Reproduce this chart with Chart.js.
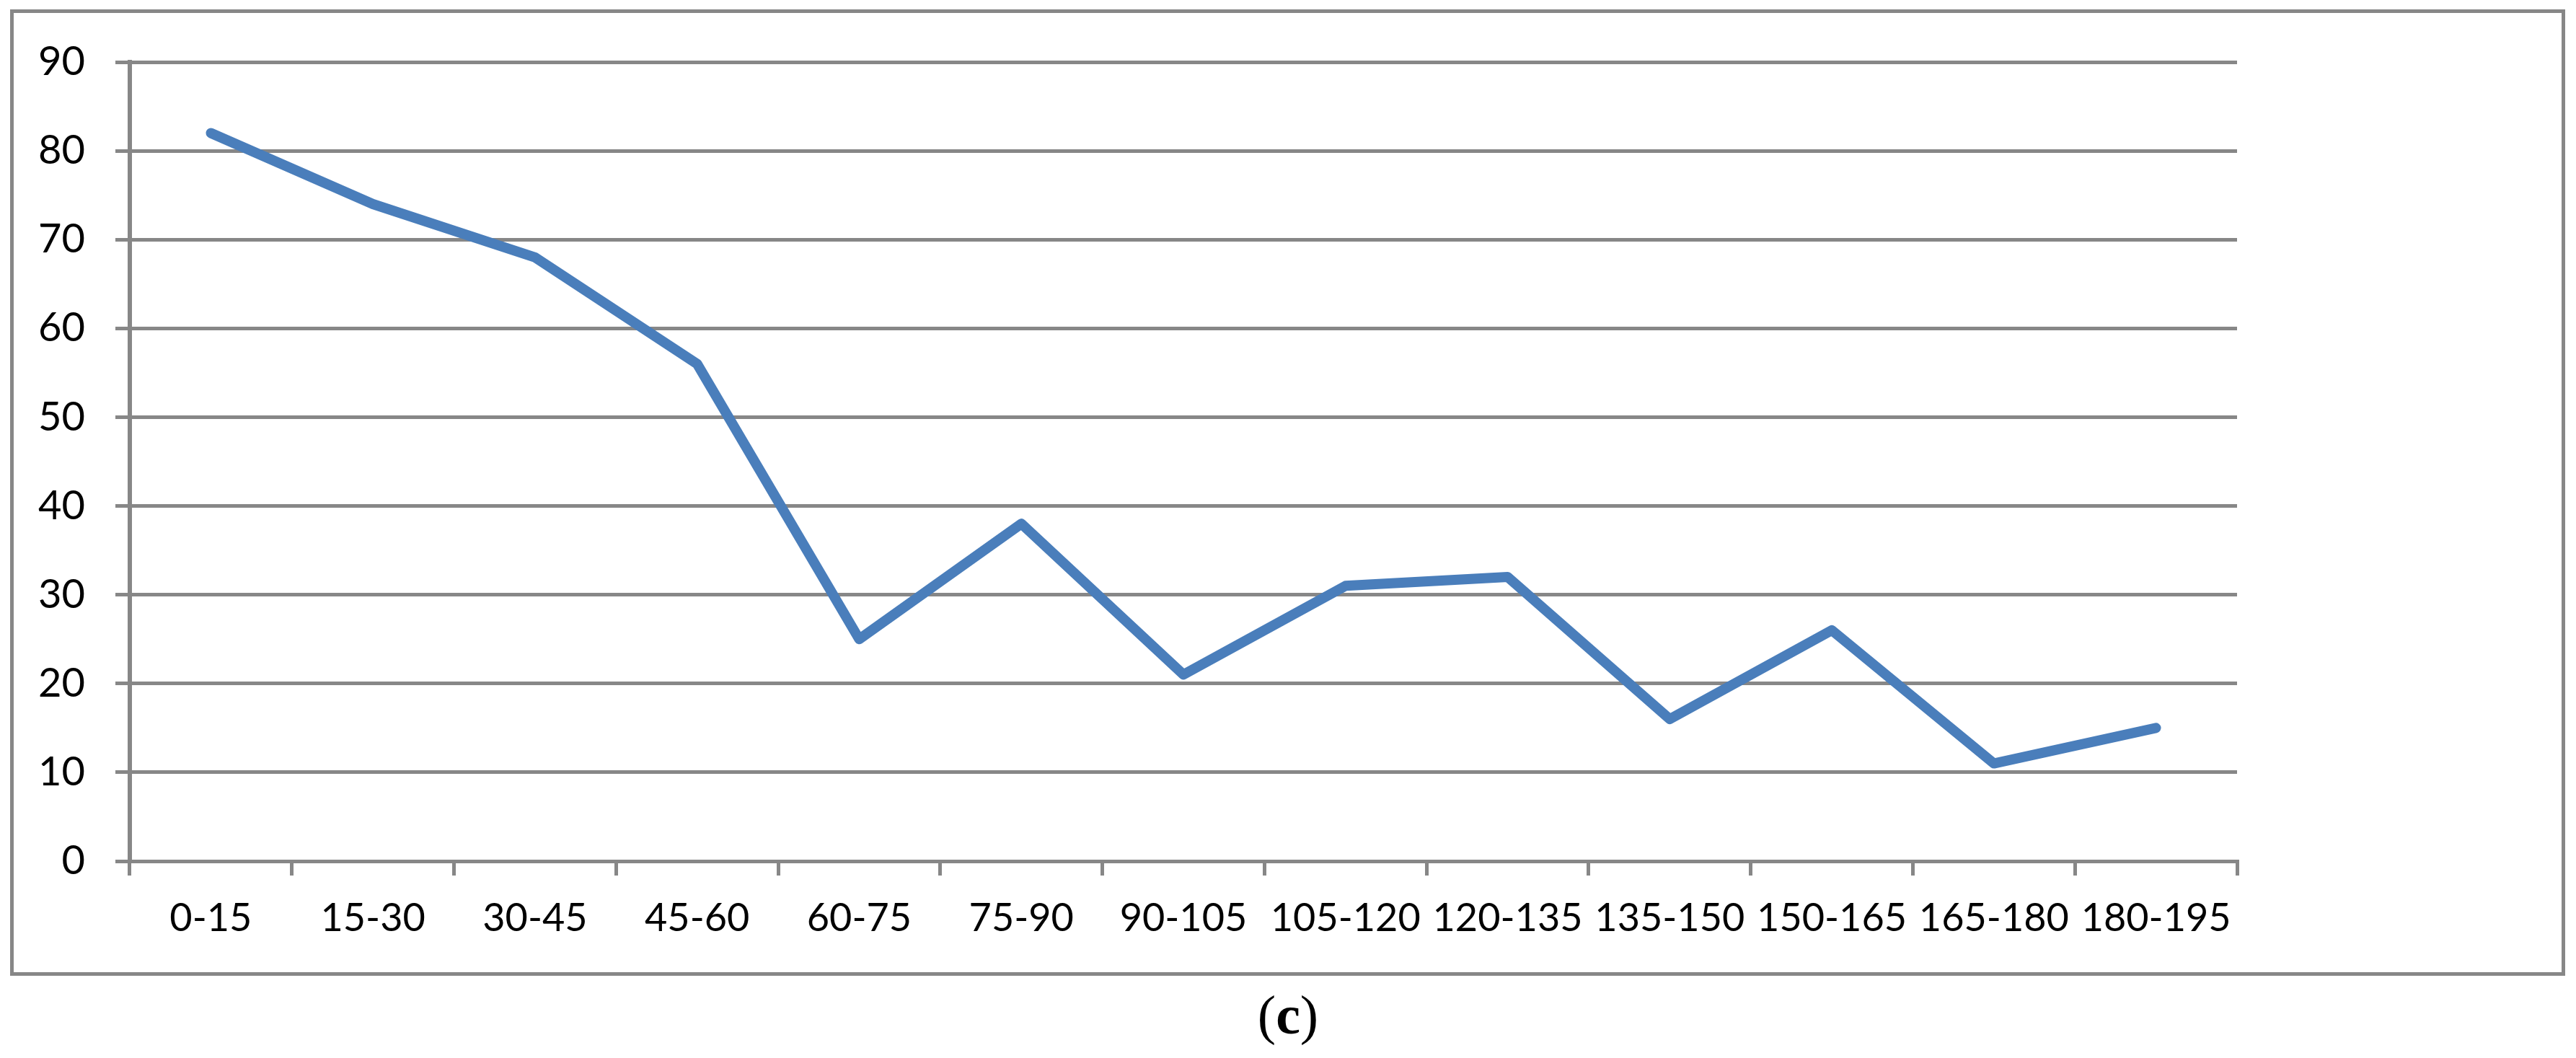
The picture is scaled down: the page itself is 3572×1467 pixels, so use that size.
<!DOCTYPE html>
<html>
<head>
<meta charset="utf-8">
<script src="https://cdn.jsdelivr.net/npm/chart.js@4.4.1/dist/chart.umd.min.js"></script>
<style>
  html, body { margin: 0; padding: 0; background: #ffffff; width: 3572px; height: 1467px; overflow: hidden; }
  #frame { position: absolute; left: 14px; top: 13px; width: 3543px; height: 1340px; box-sizing: border-box; border: 5px solid #878787; }
  #c { position: absolute; left: 0; top: 0; }
</style>
</head>
<body>
<div id="frame"></div>
<canvas id="c" width="3572" height="1467"></canvas>
<script>
const categories = ['0-15','15-30','30-45','45-60','60-75','75-90','90-105','105-120','120-135','135-150','150-165','165-180','180-195'];
const values = [82, 74, 68, 56, 25, 38, 21, 31, 32, 16, 26, 11, 15];
const yTickValues = [0, 10, 20, 30, 40, 50, 60, 70, 80, 90];
const captionLetter = 'c';

const GRAY = '#878787';
const BLUE = '#4A7EBB';
const LABEL_FONT = 'Lato';

const captionPlugin = {
  id: 'caption',
  afterDraw(chart) {
    const ctx = chart.ctx;
    ctx.save();
    ctx.fillStyle = '#000000';
    ctx.textBaseline = 'alphabetic';
    const reg = '76px "Liberation Serif"';
    const bold = 'bold 76px "Liberation Serif"';
    ctx.font = reg;
    const wOpen = ctx.measureText('(').width;
    const wClose = ctx.measureText(')').width;
    ctx.font = bold;
    const wC = ctx.measureText(captionLetter).width;
    const total = wOpen + wC + wClose;
    let x = 1786 - total / 2;
    const y = 1433;
    ctx.textAlign = 'left';
    ctx.font = reg; ctx.fillText('(', x, y); x += wOpen;
    ctx.font = bold; ctx.fillText(captionLetter, x, y); x += wC;
    ctx.font = reg; ctx.fillText(')', x, y);
    ctx.restore();
  }
};

new Chart(document.getElementById('c'), {
  type: 'line',
  data: {
    labels: categories,
    datasets: [{
      data: values,
      borderColor: BLUE,
      backgroundColor: BLUE,
      borderWidth: 14,
      pointRadius: 0,
      pointHoverRadius: 0,
      tension: 0,
      borderJoinStyle: 'round',
      borderCapStyle: 'round',
      fill: false,
      clip: false
    }]
  },
  options: {
    responsive: false,
    devicePixelRatio: 1,
    animation: false,
    events: [],
    layout: { padding: { left: 0, top: 86, right: 470, bottom: 123 } },
    plugins: { legend: { display: false }, tooltip: { enabled: false }, title: { display: false } },
    scales: {
      x: {
        type: 'category',
        offset: true,
        grid: {
          offset: true,
          drawOnChartArea: false,
          drawTicks: true,
          tickLength: 20,
          color: GRAY,
          lineWidth: 5
        },
        border: { display: true, color: GRAY, width: 5 },
        ticks: {
          color: '#000000',
          font: { family: LABEL_FONT, size: 54 },
          padding: 27,
          maxRotation: 0,
          minRotation: 0,
          autoSkip: false
        },
        afterFit(scale) { scale.height = 150; }
      },
      y: {
        min: 0,
        max: 90,
        afterBuildTicks(scale) { scale.ticks = yTickValues.map(v => ({ value: v })); },
        grid: {
          drawTicks: true,
          tickLength: 20,
          color: GRAY,
          lineWidth: 5
        },
        border: { display: true, color: GRAY, width: 6 },
        ticks: {
          color: '#000000',
          font: { family: LABEL_FONT, size: 56 },
          padding: 42
        },
        afterFit(scale) { scale.width = 180; }
      }
    }
  },
  plugins: [captionPlugin]
});
</script>
</body>
</html>
